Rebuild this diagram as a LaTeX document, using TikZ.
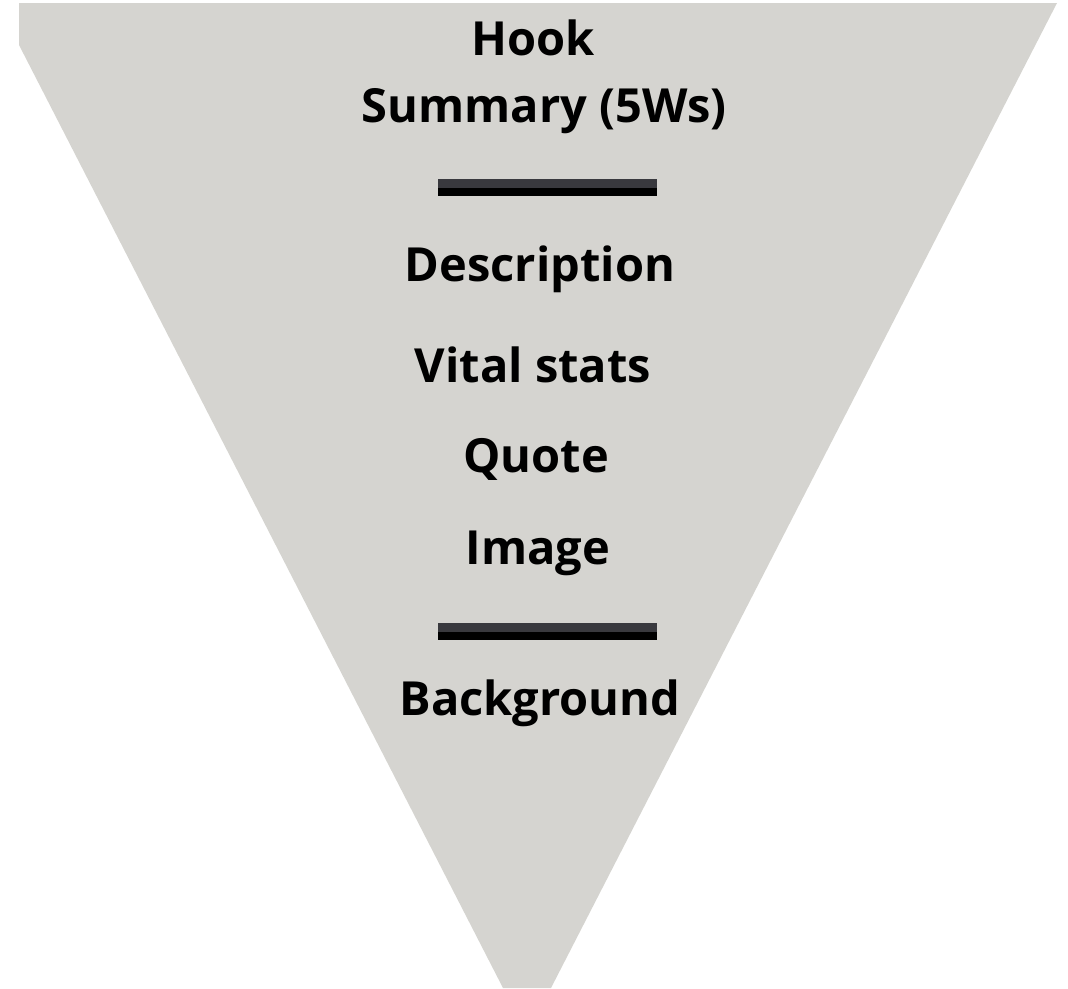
\documentclass[tikz,border=0pt]{standalone}
\usepackage{fontspec}
\setmainfont{Open Sans}
\usepackage{xcolor}
\definecolor{funnelgray}{RGB}{213,212,208}
\definecolor{bartop}{RGB}{57,57,62}
\usepackage{tikz}
\usetikzlibrary{positioning}
\tikzset{
  item/.style={
    anchor=base, inner sep=0pt,
    font=\bfseries\fontsize{47}{56}\selectfont},
  divider/.style={
    rectangle, fill=black, inner sep=0pt,
    minimum width=219pt, minimum height=17pt,
    path picture={\fill[bartop] (path picture bounding box.north west)
      rectangle ([yshift=-8.7pt]path picture bounding box.north east);}},
}

\begin{document}
\begin{tikzpicture}[x=1pt, y=-1pt]
  \useasboundingbox (0,0) rectangle (1068,988);
  % funnel
  \fill[funnelgray] (19,3) -- (1057,3) -- (551,988) -- (503,988) -- (19,45) -- cycle;
  % top block
  \node[item] (hook) at (533,55) {Hook};
  \node[item] (sum) at (544,122) {Summary (5Ws)};
  \node[divider] (div1) at (547.5,187.5) {};
  % middle block
  \node[item] (desc) at (540,281) {Description};
  \node[item] (stats) at (533,382) {Vital stats};
  \node[item] (quote) at (536,472) {Quote};
  \node[item] (img) at (538,564) {Image};
  \node[divider] (div2) at (547.5,631.5) {};
  % bottom block
  \node[item] (bg) at (540,715) {Background};
\end{tikzpicture}
\end{document}
